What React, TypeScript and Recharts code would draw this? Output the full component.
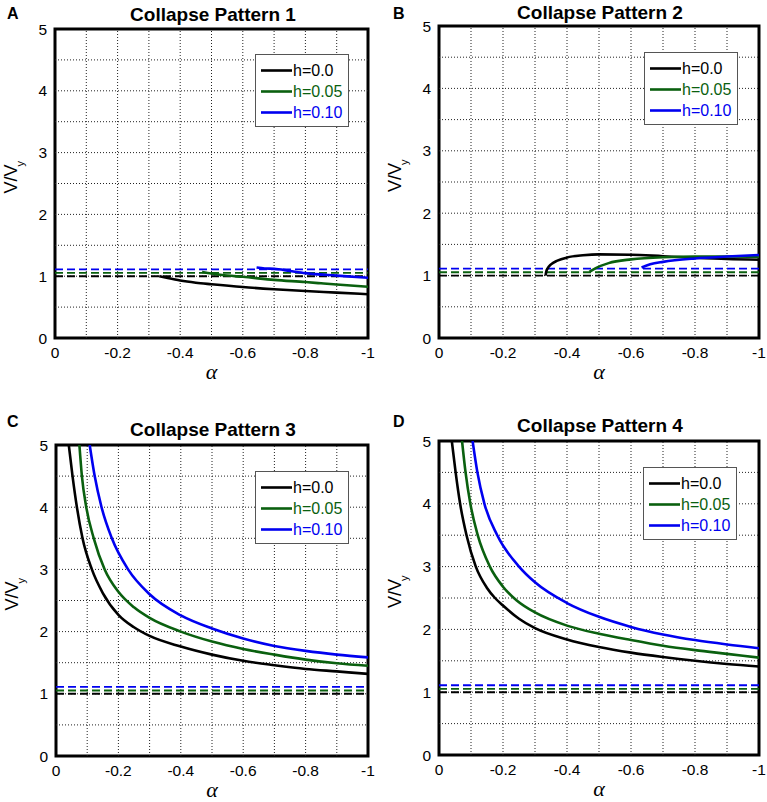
import React from 'react';
import { LineChart, Line, XAxis, YAxis, ReferenceLine, ReferenceArea, Label } from 'recharts';

// ---- axis / grid values ----
const xTicks = [0, -0.2, -0.4, -0.6, -0.8, -1];
const yTicks = [0, 1, 2, 3, 4, 5];
const gridAlphas = [-0.1, -0.2, -0.3, -0.4, -0.5, -0.6, -0.7, -0.8, -0.9];
const gridVs = [0.5, 1, 1.5, 2, 2.5, 3, 3.5, 4, 4.5];

// ---- series meta ----
const seriesNames = ['h=0.0', 'h=0.05', 'h=0.10'];
const seriesColors = ['#000000', '#0a600f', '#0000f0'];
const dashedLevels = [1.0, 1.053, 1.111];

// ---- Collapse Pattern 1 : [alpha, V/Vy] ----
const p1h00: [number, number][] = [[-0.333, 1.0], [-0.36, 0.97], [-0.4, 0.93], [-0.45, 0.895], [-0.5, 0.87], [-0.6, 0.825], [-0.7, 0.79], [-0.8, 0.76], [-0.9, 0.735], [-1.0, 0.708]];
const p1h05: [number, number][] = [[-0.47, 1.07], [-0.5, 1.045], [-0.55, 1.01], [-0.6, 0.99], [-0.7, 0.94], [-0.8, 0.905], [-0.85, 0.885], [-0.9, 0.865], [-1.0, 0.83]];
const p1h10: [number, number][] = [[-0.644, 1.14], [-0.67, 1.125], [-0.7, 1.12], [-0.75, 1.085], [-0.8, 1.05], [-0.9, 1.01], [-1.0, 0.975]];

// ---- Collapse Pattern 2 ----
const p2h00: [number, number][] = [[-0.333, 1.0], [-0.335, 1.06], [-0.34, 1.12], [-0.35, 1.18], [-0.37, 1.24], [-0.4, 1.29], [-0.45, 1.325], [-0.5, 1.34], [-0.6, 1.335], [-0.7, 1.31], [-0.8, 1.285], [-0.9, 1.265], [-1.0, 1.255]];
const p2h05: [number, number][] = [[-0.47, 1.06], [-0.49, 1.12], [-0.53, 1.2], [-0.6, 1.26], [-0.7, 1.295], [-0.8, 1.305], [-0.9, 1.305], [-1.0, 1.3]];
const p2h10: [number, number][] = [[-0.633, 1.13], [-0.66, 1.18], [-0.7, 1.22], [-0.8, 1.275], [-0.9, 1.305], [-1.0, 1.33]];

// ---- Collapse Pattern 3 ----
const p3h00: [number, number][] = [[-0.041, 5], [-0.053, 4.5], [-0.067, 4.0], [-0.085, 3.5], [-0.115, 3.0], [-0.15, 2.62], [-0.2, 2.27], [-0.25, 2.07], [-0.3, 1.93], [-0.4, 1.76], [-0.5, 1.63], [-0.6, 1.53], [-0.7, 1.46], [-0.8, 1.4], [-0.9, 1.36], [-1.0, 1.32]];
const p3h05: [number, number][] = [[-0.075, 5], [-0.083, 4.5], [-0.097, 4.0], [-0.121, 3.5], [-0.156, 3.0], [-0.2, 2.64], [-0.25, 2.39], [-0.3, 2.22], [-0.4, 2.0], [-0.5, 1.84], [-0.6, 1.72], [-0.7, 1.63], [-0.8, 1.55], [-0.9, 1.49], [-1.0, 1.45]];
const p3h10: [number, number][] = [[-0.108, 5], [-0.124, 4.5], [-0.146, 4.0], [-0.179, 3.5], [-0.231, 3.0], [-0.3, 2.6], [-0.4, 2.26], [-0.5, 2.05], [-0.6, 1.89], [-0.7, 1.77], [-0.8, 1.69], [-0.9, 1.63], [-1.0, 1.585]];

// ---- Collapse Pattern 4 ----
const p4h00: [number, number][] = [[-0.04, 5], [-0.052, 4.5], [-0.066, 4.0], [-0.086, 3.5], [-0.115, 3.0], [-0.15, 2.66], [-0.175, 2.5], [-0.2, 2.38], [-0.25, 2.17], [-0.3, 2.02], [-0.4, 1.84], [-0.5, 1.72], [-0.6, 1.63], [-0.7, 1.56], [-0.8, 1.5], [-0.9, 1.45], [-1.0, 1.41]];
const p4h05: [number, number][] = [[-0.072, 5], [-0.083, 4.5], [-0.098, 4.0], [-0.121, 3.5], [-0.159, 3.0], [-0.2, 2.68], [-0.243, 2.46], [-0.3, 2.27], [-0.4, 2.06], [-0.5, 1.93], [-0.6, 1.83], [-0.7, 1.74], [-0.8, 1.67], [-0.9, 1.61], [-1.0, 1.55]];
const p4h10: [number, number][] = [[-0.105, 5], [-0.12, 4.5], [-0.142, 4.0], [-0.182, 3.5], [-0.25, 3.0], [-0.3, 2.75], [-0.4, 2.42], [-0.5, 2.2], [-0.6, 2.04], [-0.7, 1.92], [-0.8, 1.83], [-0.9, 1.76], [-1.0, 1.7]];

const toPts = (arr: [number, number][]) => arr.map(([a, v]) => ({ a, v }));

const FONT = '"Liberation Sans", Arial, Helvetica, sans-serif';

type PanelProps = {
  left: number; top: number; width: number; height: number;
  margin: { top: number; right: number; bottom: number; left: number };
  series: [number, number][][];
  legendLeft: number; legendTop: number;
};

const YLab = (props: any) => {
  const vb = props.viewBox || {};
  const bx = vb.x + vb.width - 38;
  const sy = vb.y + vb.height / 2 + 10;
  return (
    <text transform={`translate(${bx},${sy}) rotate(-90)`} x={0} y={0} fontFamily={FONT} fontSize={18} fill="#000" textAnchor="start">
      V/V<tspan fontSize={11} dx={-2} dy={7}>y</tspan>
    </text>
  );
};

const XLab = (props: any) => {
  const vb = props.viewBox || {};
  return (
    <text x={vb.x + vb.width / 2} y={vb.y + 41} textAnchor="middle" fontFamily='"Liberation Serif", "DejaVu Serif", serif' fontStyle="italic" fontSize={22} fill="#000">
      α
    </text>
  );
};

function Panel({ left, top, width, height, margin, series, legendLeft, legendTop }: PanelProps) {
  const m = { top: margin.top, right: margin.right, left: margin.left - 1, bottom: margin.bottom - 1 };
  return (
    <div style={{ position: 'absolute', left, top, width, height }}>
      <LineChart width={width} height={height} margin={m}>
        <XAxis
          dataKey="a" type="number" domain={[-1, 0]} reversed allowDataOverflow
          ticks={xTicks} tickLine={false} axisLine={false} tickSize={0} tickMargin={9} height={1}
          tick={{ fontSize: 15.5, fill: '#000', fontFamily: FONT }} interval={0}
        >
          <Label content={<XLab />} />
        </XAxis>
        <YAxis
          dataKey="v" type="number" domain={[0, 5]} allowDataOverflow
          ticks={yTicks} tickLine={false} axisLine={false} tickSize={0} tickMargin={8} width={1}
          tick={{ fontSize: 15.5, fill: '#000', fontFamily: FONT }} interval={0}
        >
          <Label content={<YLab />} />
        </YAxis>
        {gridAlphas.map((g) => (
          <ReferenceLine key={'gx' + g} x={g} stroke="#222" strokeWidth={1} strokeDasharray="1 2" />
        ))}
        {gridVs.map((g) => (
          <ReferenceLine key={'gy' + g} y={g} stroke="#222" strokeWidth={1} strokeDasharray="1 2" />
        ))}
        {dashedLevels.map((lv, i) => (
          <ReferenceLine key={'d' + i} y={lv} stroke={seriesColors[i]} strokeWidth={1.9} strokeDasharray="8 4" />
        ))}
        {series.map((s, i) => (
          <Line
            key={'s' + i} data={toPts(s)} dataKey="v" name={seriesNames[i]} type="monotone"
            stroke={seriesColors[i]} strokeWidth={2.6} dot={false} activeDot={false}
            isAnimationActive={false}
          />
        ))}
        <ReferenceArea x1={-1} x2={0} y1={0} y2={5} fill="none" fillOpacity={0} stroke="#000" strokeWidth={3} ifOverflow="visible" />
      </LineChart>
      <div style={{
        position: 'absolute', left: legendLeft, top: legendTop, width: 94, height: 73,
        background: '#fff', border: '1px solid #555', boxSizing: 'border-box'
      }}>
        <svg width={92} height={71} style={{ display: 'block' }}>
          {seriesNames.map((n, i) => (
            <g key={n}>
              <line x1={5} x2={36} y1={15.5 + i * 21} y2={15.5 + i * 21} stroke={seriesColors[i]} strokeWidth={2.6} />
              <text x={37} y={21 + i * 21} fontFamily={FONT} fontSize={16} fill={seriesColors[i]}>{n}</text>
            </g>
          ))}
        </svg>
      </div>
    </div>
  );
}

const titles = ['Collapse Pattern 1', 'Collapse Pattern 2', 'Collapse Pattern 3', 'Collapse Pattern 4'];
const letters = ['A', 'B', 'C', 'D'];

export default function App() {
  return (
    <div style={{ position: 'absolute', left: 0, top: 0, width: 767, height: 802, background: '#fff', overflow: 'hidden' }}>
      <Panel left={0} top={0} width={383} height={400}
        margin={{ top: 29, left: 55, right: 15, bottom: 62 }}
        series={[p1h00, p1h05, p1h10]} legendLeft={255} legendTop={54} />
      <Panel left={383} top={0} width={384} height={400}
        margin={{ top: 26, left: 56, right: 8, bottom: 62 }}
        series={[p2h00, p2h05, p2h10]} legendLeft={644 - 383} legendTop={52} />
      <Panel left={0} top={400} width={383} height={402}
        margin={{ top: 45, left: 56, right: 15, bottom: 46 }}
        series={[p3h00, p3h05, p3h10]} legendLeft={255} legendTop={71} />
      <Panel left={383} top={400} width={384} height={402}
        margin={{ top: 41, left: 56, right: 8, bottom: 47 }}
        series={[p4h00, p4h05, p4h10]} legendLeft={643 - 383} legendTop={67} />
      <svg width={767} height={802} style={{ position: 'absolute', left: 0, top: 0, pointerEvents: 'none' }}>
        <text x={213} y={20.5} textAnchor="middle" fontFamily={FONT} fontWeight="bold" fontSize={19}>{titles[0]}</text>
        <text x={600} y={18.5} textAnchor="middle" fontFamily={FONT} fontWeight="bold" fontSize={19}>{titles[1]}</text>
        <text x={213} y={436} textAnchor="middle" fontFamily={FONT} fontWeight="bold" fontSize={19}>{titles[2]}</text>
        <text x={600} y={432} textAnchor="middle" fontFamily={FONT} fontWeight="bold" fontSize={19}>{titles[3]}</text>
        <text x={7} y={19} fontFamily={FONT} fontWeight="bold" fontSize={16}>{letters[0]}</text>
        <text x={393} y={19} fontFamily={FONT} fontWeight="bold" fontSize={16}>{letters[1]}</text>
        <text x={7} y={426.5} fontFamily={FONT} fontWeight="bold" fontSize={16}>{letters[2]}</text>
        <text x={393} y={426.5} fontFamily={FONT} fontWeight="bold" fontSize={16}>{letters[3]}</text>
      </svg>
    </div>
  );
}
